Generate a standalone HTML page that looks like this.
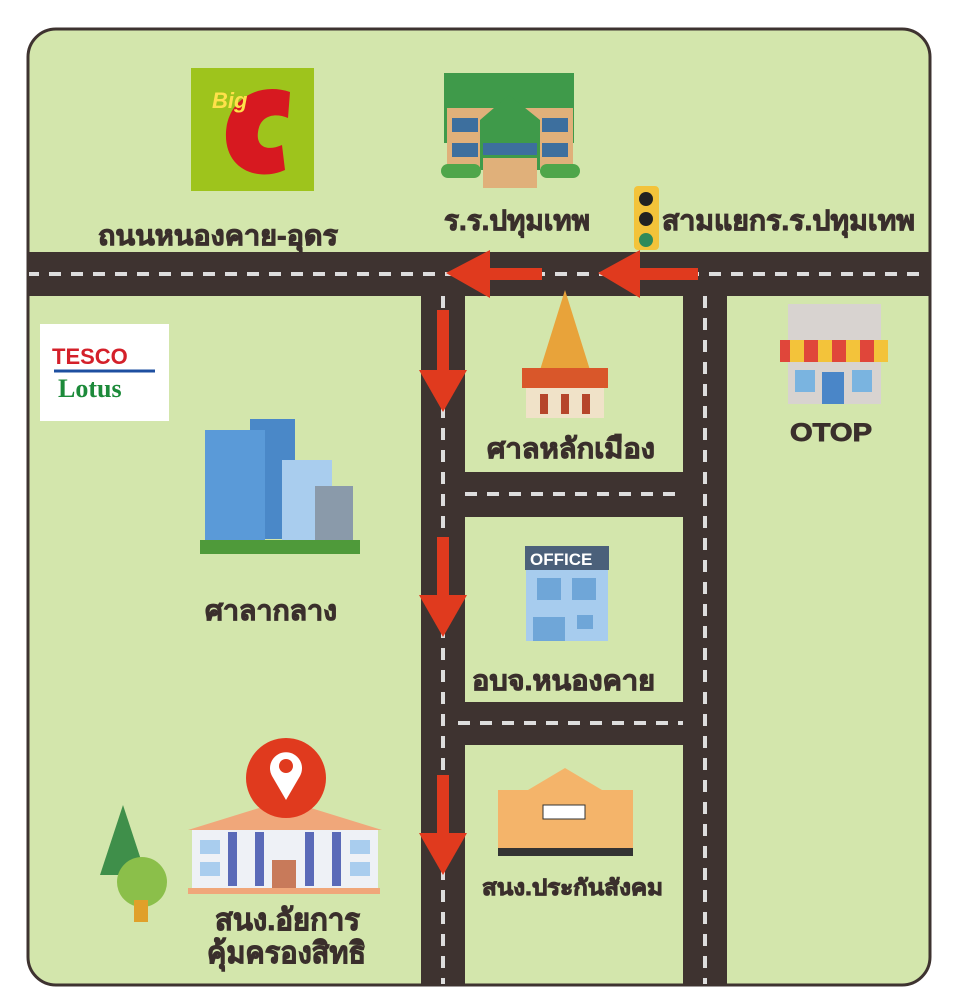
<!DOCTYPE html>
<html><head><meta charset="utf-8"><style>
html,body{margin:0;padding:0;background:#fff;width:960px;height:1000px;overflow:hidden}
svg text{font-family:"Liberation Sans","Noto Sans CJK SC",sans-serif;font-weight:bold;fill:#3a2f2c}
.l{stroke:#3a2f2c;stroke-width:0.9}
</style></head><body>
<svg width="960" height="1000" viewBox="0 0 960 1000" xmlns="http://www.w3.org/2000/svg">
<defs><clipPath id="c"><rect x="29" y="30" width="900" height="954" rx="27"/></clipPath></defs>
<rect x="28" y="29" width="902" height="956" rx="28" fill="#d3e6ac" stroke="#3e3330" stroke-width="3"/>
<g clip-path="url(#c)">
<g fill="#3e3330">
<rect x="27" y="252" width="905" height="44"/>
<rect x="421" y="252" width="44" height="740"/>
<rect x="683" y="252" width="44" height="740"/>
<rect x="465" y="472" width="218" height="45"/>
<rect x="465" y="702" width="218" height="43"/>
</g>
<g stroke="#ddd" stroke-width="4" stroke-dasharray="12 10" fill="none">
<line x1="27" y1="274" x2="930" y2="274"/>
<line x1="443" y1="296" x2="443" y2="990"/>
<line x1="705" y1="296" x2="705" y2="990"/>
<line x1="465" y1="494" x2="683" y2="494"/>
<line x1="458" y1="723" x2="683" y2="723"/>
</g>
</g>
<g fill="#e03a1e">
<rect x="478" y="268" width="64" height="12"/><polygon points="446,273 490,250 490,298"/>
<rect x="628" y="268" width="70" height="12"/><polygon points="598,273 640,250 640,298"/>
<rect x="437" y="310" width="12" height="64"/><polygon points="419,370 467,370 443,412"/>
<rect x="437" y="537" width="12" height="62"/><polygon points="419,595 467,595 443,637"/>
<rect x="437" y="775" width="12" height="62"/><polygon points="419,833 467,833 443,875"/>
</g>
<rect x="191" y="68" width="123" height="123" fill="#9ec41c"/>
<path d="M290 92 C260 82 228 98 226 132 C224 170 258 182 285 170 L282 145 C266 152 256 146 258 132 C260 116 274 112 288 118 Z" fill="#d71920"/>
<text x="212" y="108" font-size="22" style="fill:#ffe14a;font-style:italic">Big</text>
<rect x="444" y="73" width="130" height="70" fill="#3f9a4a"/>
<rect x="447" y="108" width="126" height="60" fill="#e0b07a"/>
<polygon points="509,95 480,120 480,170 540,170 540,120" fill="#3f9a4a"/>
<rect x="483" y="143" width="54" height="12" fill="#3d6f9e"/>
<rect x="483" y="158" width="54" height="30" fill="#e0b07a"/>
<rect x="452" y="118" width="26" height="14" fill="#3d6f9e"/><rect x="542" y="118" width="26" height="14" fill="#3d6f9e"/>
<rect x="452" y="143" width="26" height="14" fill="#3d6f9e"/><rect x="542" y="143" width="26" height="14" fill="#3d6f9e"/>
<rect x="441" y="164" width="40" height="14" rx="7" fill="#4fa64a"/><rect x="540" y="164" width="40" height="14" rx="7" fill="#4fa64a"/>
<rect x="634" y="186" width="25" height="64" rx="4" fill="#f3c33a"/>
<circle cx="646" cy="199" r="7" fill="#222"/><circle cx="646" cy="219" r="7" fill="#222"/><circle cx="646" cy="240" r="7" fill="#2f8a5a"/>
<text class="l" x="98" y="245" font-size="28" textLength="240" lengthAdjust="spacingAndGlyphs">ถนนหนองคาย-อุดร</text>
<text class="l" x="444" y="230" font-size="28" textLength="146" lengthAdjust="spacingAndGlyphs">ร.ร.ปทุมเทพ</text>
<text class="l" x="662" y="230" font-size="28" textLength="253" lengthAdjust="spacingAndGlyphs">สามแยกร.ร.ปทุมเทพ</text>
<rect x="40" y="324" width="129" height="97" fill="#fff"/>
<text x="52" y="364" font-size="22" style="fill:#d4202a">TESCO</text>
<line x1="54" y1="371" x2="155" y2="371" stroke="#1e4fa0" stroke-width="3"/>
<text x="58" y="397" font-size="26" style="fill:#1c8a3a;font-family:'Liberation Serif',serif">Lotus</text>
<polygon points="565,290 540,370 590,370" fill="#e8a33a"/>
<rect x="522" y="368" width="86" height="20" fill="#d9572a"/>
<rect x="526" y="388" width="78" height="30" fill="#f0e2c8"/>
<g fill="#b6452a"><rect x="540" y="394" width="8" height="20"/><rect x="561" y="394" width="8" height="20"/><rect x="582" y="394" width="8" height="20"/></g>
<text class="l" x="487" y="458" font-size="28" textLength="168" lengthAdjust="spacingAndGlyphs">ศาลหลักเมือง</text>
<rect x="788" y="304" width="93" height="100" fill="#d8d3d0"/>
<path d="M780 340 h108 v22 h-108z" fill="#e0463a"/>
<g fill="#f3c33a"><rect x="790" y="340" width="14" height="22"/><rect x="818" y="340" width="14" height="22"/><rect x="846" y="340" width="14" height="22"/><rect x="874" y="340" width="14" height="22"/></g>
<rect x="795" y="370" width="20" height="22" fill="#7ab4e0"/><rect x="822" y="372" width="22" height="32" fill="#4a86c8"/><rect x="852" y="370" width="20" height="22" fill="#7ab4e0"/>
<text class="l" x="790" y="441" font-size="25" textLength="82" lengthAdjust="spacingAndGlyphs">OTOP</text>
<rect x="250" y="419" width="45" height="120" fill="#4a88c8"/>
<rect x="205" y="430" width="60" height="110" fill="#5a9ad8"/>
<rect x="282" y="460" width="50" height="80" fill="#a9cdee"/>
<rect x="315" y="486" width="38" height="55" fill="#8a9aaa"/>
<rect x="200" y="540" width="160" height="14" fill="#4f9a3a"/>
<text class="l" x="205" y="620" font-size="28" textLength="132" lengthAdjust="spacingAndGlyphs">ศาลากลาง</text>
<rect x="525" y="546" width="84" height="24" fill="#4b607a"/>
<text x="530" y="565" font-size="17" style="fill:#fff">OFFICE</text>
<rect x="526" y="570" width="82" height="71" fill="#a7ccee"/>
<rect x="537" y="578" width="24" height="22" fill="#6fa6d8"/><rect x="572" y="578" width="24" height="22" fill="#6fa6d8"/>
<rect x="533" y="617" width="32" height="24" fill="#6fa6d8"/><rect x="577" y="615" width="16" height="14" fill="#6fa6d8"/>
<text class="l" x="472" y="690" font-size="28" textLength="183" lengthAdjust="spacingAndGlyphs">อบจ.หนองคาย</text>
<rect x="498" y="790" width="135" height="62" fill="#f4b46a"/>
<polygon points="528,790 565,768 602,790" fill="#f4b46a"/>
<rect x="498" y="848" width="135" height="8" fill="#333"/>
<rect x="543" y="805" width="42" height="14" fill="#fff" stroke="#333"/>
<text class="l" x="482" y="895" font-size="22" textLength="181" lengthAdjust="spacingAndGlyphs">สนง.ประกันสังคม</text>
<polygon points="123,805 100,875 146,875" fill="#3f8f4a"/>
<circle cx="142" cy="882" r="25" fill="#8bbf4a"/>
<rect x="134" y="900" width="14" height="22" fill="#e0a02a"/>
<polygon points="188,830 285,800 382,830" fill="#f0a77a"/>
<rect x="192" y="830" width="186" height="58" fill="#eef1f6"/>
<g fill="#5a6ab8"><rect x="228" y="832" width="9" height="54"/><rect x="255" y="832" width="9" height="54"/><rect x="305" y="832" width="9" height="54"/><rect x="332" y="832" width="9" height="54"/></g>
<g fill="#a9cdee"><rect x="200" y="840" width="20" height="14"/><rect x="200" y="862" width="20" height="14"/><rect x="350" y="840" width="20" height="14"/><rect x="350" y="862" width="20" height="14"/></g>
<rect x="188" y="888" width="192" height="6" fill="#f0a77a"/>
<rect x="272" y="860" width="24" height="28" fill="#c87a5a"/>
<circle cx="286" cy="778" r="40" fill="#e03a1e"/>
<path d="M286 800 L272 776 A16 16 0 1 1 300 776 Z" fill="#fff"/><circle cx="286" cy="766" r="7" fill="#e03a1e"/>
<text class="l" x="215" y="930" font-size="30" textLength="145" lengthAdjust="spacingAndGlyphs">สนง.อัยการ</text>
<text class="l" x="207" y="963" font-size="30" textLength="159" lengthAdjust="spacingAndGlyphs">คุ้มครองสิทธิ</text>
</svg>
</body></html>
